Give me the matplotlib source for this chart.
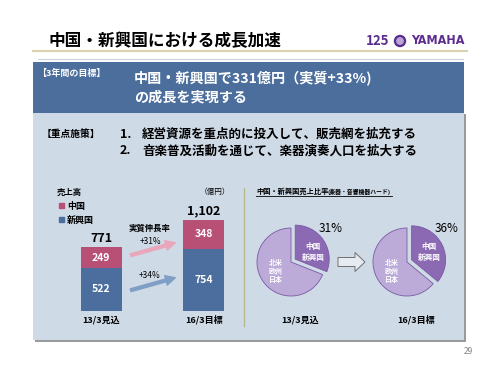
import matplotlib
matplotlib.use("Agg")
import matplotlib.pyplot as plt
import numpy as np
from matplotlib.patches import Rectangle, FancyArrow, FancyArrowPatch, Circle

plt.rcParams['font.family'] = ['Noto Sans CJK JP', 'DejaVu Sans']

# data
periods = ["13/3見込", "16/3目標"]
china = [249, 348]
emerging = [522, 754]
totals = ["771", "1,102"]
growth = ["+31%", "+34%"]
share = [31, 36]

PINK = "#b84f74"
BLUE = "#4b6e9e"
BAND = "#4b6e9d"
PANEL = "#cfdae7"

fig = plt.figure(figsize=(5, 3.75), dpi=100)
fig.patch.set_facecolor("white")

# background axes in pixel coordinates
bg = fig.add_axes([0, 0, 1, 1])
bg.set_xlim(0, 500)
bg.set_ylim(375, 0)
bg.axis("off")

# header
bg.text(48, 41, "中国・新興国における成長加速", fontsize=12, fontweight="bold",
        va="center", ha="left", color="black")
bg.plot([33, 467], [51, 51], color="#d8d2b2", lw=1.5)
bg.plot([38, 463], [59, 59], color="#c9d4df", lw=0.8)
bg.text(378, 41, "125", fontsize=9.5, fontweight="bold", color="#5b2d8e",
        va="center", ha="center")
bg.add_patch(Circle((400, 41), 5.5, color="#5b2d8e"))
bg.add_patch(Circle((400, 41), 3.2, color="#b9a5d6"))
bg.text(438, 41, "YAMAHA", fontsize=9, fontweight="bold", color="#5b2d8e",
        va="center", ha="center", family="DejaVu Sans", stretch="condensed")

# panel boxes
bg.add_patch(Rectangle((35, 114), 431, 228, facecolor="#9a9a9a", edgecolor="none"))
bg.add_patch(Rectangle((33, 112), 431, 228, facecolor=PANEL, edgecolor="none"))
bg.add_patch(Rectangle((33, 62), 431, 51, facecolor=BAND, edgecolor="none"))

bg.text(37, 73, "【3年間の目標】", fontsize=6.5, fontweight="bold", color="white",
        va="center", ha="left")
bg.text(134, 78, "中国・新興国で331億円（実質+33%)", fontsize=10.2, fontweight="bold",
        color="white", va="center", ha="left")
bg.text(134, 97, "の成長を実現する", fontsize=10.2, fontweight="bold",
        color="white", va="center", ha="left")

bg.text(42, 134, "【重点施策】", fontsize=7, fontweight="bold", va="center", ha="left")
bg.text(120, 134, "1.", fontsize=9, fontweight="bold", va="center", ha="left")
bg.text(142, 134, "経営資源を重点的に投入して、販売網を拡充する", fontsize=9,
        fontweight="bold", va="center", ha="left")
bg.text(120, 151, "2.", fontsize=9, fontweight="bold", va="center", ha="left")
bg.text(142, 151, "音楽普及活動を通じて、楽器演奏人口を拡大する", fontsize=9,
        fontweight="bold", va="center", ha="left")

# bar chart labels
bg.text(57, 192, "売上高", fontsize=6, fontweight="bold", va="center", ha="left")
bg.text(215, 192, "（億円）", fontsize=5.5, va="center", ha="center")
bg.add_patch(Rectangle((59, 203), 5, 5, color=PINK))
bg.text(67, 206, "中国", fontsize=6.5, fontweight="bold", va="center", ha="left")
bg.add_patch(Rectangle((59, 217), 5, 5, color=BLUE))
bg.text(67, 220, "新興国", fontsize=6.5, fontweight="bold", va="center", ha="left")
bg.text(150, 228, "実質伸長率", fontsize=6, fontweight="bold", va="center", ha="center")
bg.text(150, 241, growth[0], fontsize=6, va="center", ha="center")
bg.text(150, 276, growth[1], fontsize=6, va="center", ha="center")
bg.add_patch(FancyArrowPatch((128, 256), (178, 242), color="#e9a7bb",
             arrowstyle="simple,head_width=1.0,head_length=1.0,tail_width=0.3",
             mutation_scale=7))
bg.add_patch(FancyArrowPatch((128, 291), (178, 277), color="#809fc7",
             arrowstyle="simple,head_width=1.0,head_length=1.0,tail_width=0.3",
             mutation_scale=7))
bg.plot([244, 244], [188, 326], color="#b7bb8c", lw=1)

# bar chart
ax = fig.add_axes([60 / 500, 1 - 311 / 375, 185 / 500, 111 / 375])
ax.patch.set_alpha(0)
x = np.arange(len(periods))
ax.bar(x, emerging, width=0.4, color=BLUE)
ax.bar(x, china, width=0.4, bottom=emerging, color=PINK)
for i in x:
    ax.text(i, emerging[i] / 2, str(emerging[i]), color="white", fontsize=7.5,
            fontweight="bold", ha="center", va="center")
    ax.text(i, emerging[i] + china[i] / 2, str(china[i]), color="white", fontsize=7.5,
            fontweight="bold", ha="center", va="center")
    ax.annotate(totals[i], (i, emerging[i] + china[i]), xytext=(0, 6.5),
                textcoords="offset points", ha="center", va="center",
                fontsize=9, fontweight="bold")
    ax.annotate(periods[i], (i, 0), xytext=(0, -6.5), textcoords="offset points",
                ha="center", va="center", fontsize=6.5, fontweight="bold")
ax.set_xlim(-0.4, 1.4)
ax.set_ylim(0, 111 / 0.0825)
ax.axis("off")

# pie section
bg.text(256, 191, "中国・新興国売上比率", fontsize=5.2, fontweight="bold",
        va="center", ha="left")
bg.text(327, 191.5, "(楽器・音響機器ハード)", fontsize=4.2, fontweight="bold",
        va="center", ha="left")
bg.plot([256, 392], [196, 196], color="black", lw=0.6)

bg.add_patch(FancyArrow(338, 262, 17, 0, width=9, head_width=19, head_length=10,
                        length_includes_head=False, facecolor="#e6ebf2",
                        edgecolor="#6f6f6f", linewidth=0.7))
bg.text(468, 351, "29", fontsize=6, color="#808080", ha="center", va="center")

centers = [(291, 262), (407, 262)]
for k, (cx, cy) in enumerate(centers):
    pax = fig.add_axes([(cx - 50) / 500, 1 - (cy + 50) / 375, 100 / 500, 100 / 375])
    pax.pie([share[k], 100 - share[k]], startangle=90, counterclock=False,
            explode=[0.15, 0], colors=["#8c6ab3", "#bcaad9"],
            wedgeprops=dict(edgecolor="#7a5aa3", linewidth=0.6))
    pax.set_xlim(-1.47, 1.47)
    pax.set_ylim(-1.47, 1.47)
    pax.set_aspect("equal")
    pax.axis("off")

# overlay for texts on top of the pies
top = fig.add_axes([0, 0, 1, 1])
top.set_xlim(0, 500)
top.set_ylim(375, 0)
top.axis("off")
for k, (cx, cy) in enumerate(centers):
    top.text(cx + 22, cy - 10, "中国\n新興国", fontsize=5.5, color="white",
             fontweight="bold", ha="center", va="center", linespacing=1.3)
    top.text(cx - 15, cy + 9, "北米\n欧州\n日本", fontsize=5, color="white",
             fontweight="bold", ha="center", va="center", linespacing=1.2)
    top.text(cx + 40, cy - 33, f"{share[k]}%", fontsize=8.5, ha="center",
             va="center")
    top.text(cx + 9, 320, periods[k], fontsize=6.5, fontweight="bold",
             ha="center", va="center")

fig.savefig("out.png", dpi=100)
